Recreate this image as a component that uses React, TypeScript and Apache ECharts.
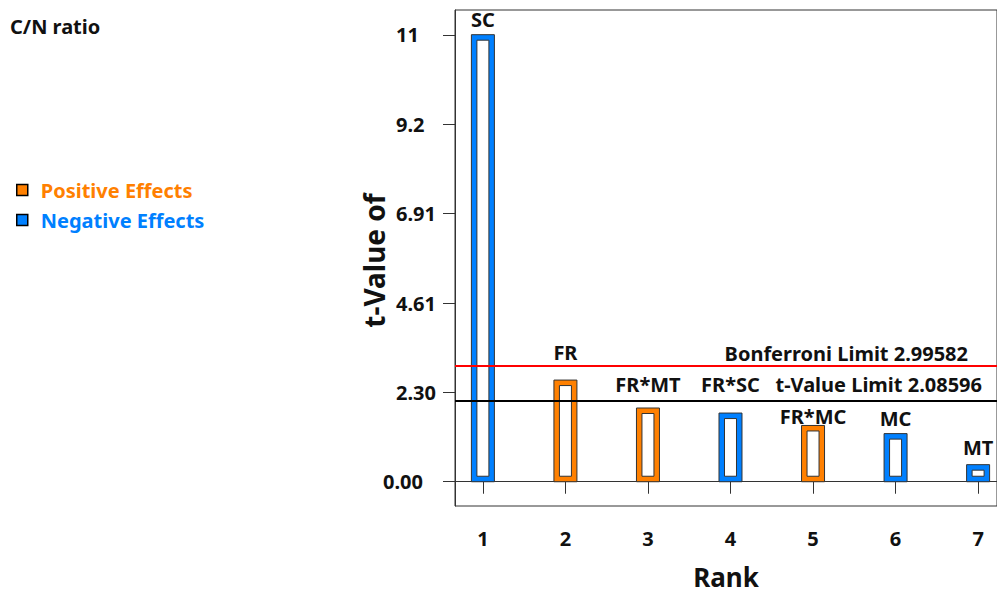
import React, { useEffect, useRef } from 'react';
import * as echarts from 'echarts';

const RANKS = [1, 2, 3, 4, 5, 6, 7];
const TERMS = ['SC', 'FR', 'FR*MT', 'FR*SC', 'FR*MC', 'MC', 'MT'];
const T_VALUES = [11.52, 2.62, 1.9, 1.77, 1.45, 1.24, 0.44];
const EFFECT_SIGN = ['neg', 'pos', 'pos', 'neg', 'pos', 'neg', 'neg'];
const Y_TICKS = [0, 2.3026, 4.6052, 6.9078, 9.2103, 11.5129];
const Y_TICK_LABELS = ['0.00', '2.30', '4.61', '6.91', '9.2', '11'];
const BONFERRONI_LIMIT = 2.99582;
const T_VALUE_LIMIT = 2.08596;
const LABEL_LIFT = [15, 28, 24, 29, 9, 15, 17];

const ORANGE = '#FF8000';
const BLUE = '#0080FF';
const FONT = '"Noto Sans", "Open Sans", sans-serif';

const renderBar = (params: any, api: any) => {
  const x = api.value(0);
  const v = api.value(1);
  const idx = api.value(2);
  const top = api.coord([x, v]);
  const base = api.coord([x, 0]);
  const w = 23;
  const inset = 5.5;
  const h = base[1] - top[1];
  const color = api.visual('color');
  return {
    type: 'group',
    children: [
      {
        type: 'rect',
        shape: { x: top[0] - w / 2, y: top[1], width: w, height: h },
        style: { fill: color, stroke: '#333', lineWidth: 1 },
      },
      {
        type: 'rect',
        shape: {
          x: top[0] - w / 2 + inset,
          y: top[1] + inset,
          width: w - 2 * inset,
          height: Math.max(h - 2 * inset, 1),
        },
        style: { fill: '#fff', stroke: '#333', lineWidth: 1 },
      },
      {
        type: 'text',
        x: top[0],
        y: top[1] - LABEL_LIFT[idx],
        style: {
          text: TERMS[idx],
          fill: '#111',
          font: `bold 20px ${FONT}`,
          align: 'center',
          verticalAlign: 'middle',
        },
      },
    ],
  };
};

export default function App() {
  const ref = useRef<HTMLDivElement>(null);
  useEffect(() => {
    if (!ref.current) return;
    const chart = echarts.init(ref.current, null, { renderer: 'svg' });
    const pos: number[][] = [];
    const neg: number[][] = [];
    RANKS.forEach((r, i) => {
      (EFFECT_SIGN[i] === 'pos' ? pos : neg).push([r, T_VALUES[i], i]);
    });
    const limitLabel = {
      position: 'insideEndTop',
      fontFamily: FONT,
      fontWeight: 'bold',
      fontSize: 20,
      color: '#111',
    };
    const tickTextStyle = {
      fontFamily: FONT,
      fontWeight: 'bold',
      fontSize: 20,
      color: '#111',
    };
    chart.setOption({
      animation: false,
      textStyle: { fontFamily: FONT },
      title: {
        text: 'C/N ratio',
        left: 10,
        top: 16,
        padding: 0,
        textStyle: { fontFamily: FONT, fontWeight: 'bold', fontSize: 20, color: '#111' },
      },
      legend: {
        orient: 'vertical',
        left: 11,
        top: 175,
        icon: 'rect',
        itemWidth: 11,
        itemHeight: 11,
        itemGap: 10,
        itemStyle: { borderColor: '#000', borderWidth: 1.5 },
        textStyle: {
          fontFamily: FONT,
          fontWeight: 'bold',
          fontSize: 20,
          padding: [0, 0, 0, 8],
        },
        data: [
          { name: 'Positive Effects', textStyle: { color: ORANGE } },
          { name: 'Negative Effects', textStyle: { color: BLUE } },
        ],
      },
      grid: {
        left: 455,
        right: -3,
        top: 10,
        bottom: 84,
        show: true,
        borderColor: '#333',
        borderWidth: 1,
      },
      xAxis: {
        type: 'value',
        min: 0.662,
        max: 7.229,
        name: 'Rank',
        nameLocation: 'middle',
        nameGap: 58,
        nameMoveOverlap: false,
        nameTextStyle: { fontFamily: FONT, fontWeight: 'bold', fontSize: 26, color: '#111' },
        axisLine: { show: true, lineStyle: { color: '#333', width: 1 } },
        axisTick: { show: true, customValues: RANKS, length: 12, lineStyle: { color: '#333' } },
        axisLabel: {
          customValues: RANKS,
          margin: 22,
          ...tickTextStyle,
        },
        splitLine: { show: false },
      },
      yAxis: {
        type: 'value',
        min: -0.625,
        max: 12.156,
        name: 't-Value of',
        nameLocation: 'middle',
        nameGap: 67,
        nameMoveOverlap: false,
        nameTextStyle: {
          fontFamily: FONT,
          fontWeight: 'bold',
          fontSize: 28,
          color: '#111',
          padding: [0, 5, 0, 0],
        },
        axisLine: { show: true, lineStyle: { color: '#333', width: 1 } },
        axisTick: { show: true, customValues: Y_TICKS, length: 12, lineStyle: { color: '#333' } },
        axisLabel: {
          customValues: Y_TICKS,
          margin: 72,
          align: 'left',
          ...tickTextStyle,
          rich: {
            z: { ...tickTextStyle },
            n: { ...tickTextStyle, padding: [0, 0, 0, 13] },
          },
          formatter: (v: number) => {
            let best = 0;
            Y_TICKS.forEach((t, i) => {
              if (Math.abs(t - v) < Math.abs(Y_TICKS[best] - v)) best = i;
            });
            return best === 0 ? `{z|${Y_TICK_LABELS[best]}}` : `{n|${Y_TICK_LABELS[best]}}`;
          },
        },
        splitLine: { show: false },
      },
      series: [
        {
          name: 'Positive Effects',
          type: 'custom',
          renderItem: renderBar,
          itemStyle: { color: ORANGE },
          encode: { x: 0, y: 1 },
          data: pos,
          markLine: {
            silent: true,
            symbol: 'none',
            data: [
              {
                yAxis: BONFERRONI_LIMIT,
                lineStyle: { color: '#FF0000', width: 2, type: 'solid' },
                label: {
                  ...limitLabel,
                  formatter: `Bonferroni Limit ${BONFERRONI_LIMIT}`,
                  distance: 2,
                  padding: [0, 27, 0, 0],
                },
              },
              {
                yAxis: T_VALUE_LIMIT,
                lineStyle: { color: '#000', width: 2, type: 'solid' },
                label: {
                  ...limitLabel,
                  formatter: `t-Value Limit ${T_VALUE_LIMIT}`,
                  distance: 6,
                  padding: [0, 9, 0, 0],
                },
              },
            ],
          },
        },
        {
          name: 'Negative Effects',
          type: 'custom',
          renderItem: renderBar,
          itemStyle: { color: BLUE },
          encode: { x: 0, y: 1 },
          data: neg,
        },
      ],
    });
    return () => chart.dispose();
  }, []);
  return (
    <div
      ref={ref}
      style={{ position: 'fixed', left: 0, top: 0, width: 997, height: 595, background: '#fff' }}
    />
  );
}
